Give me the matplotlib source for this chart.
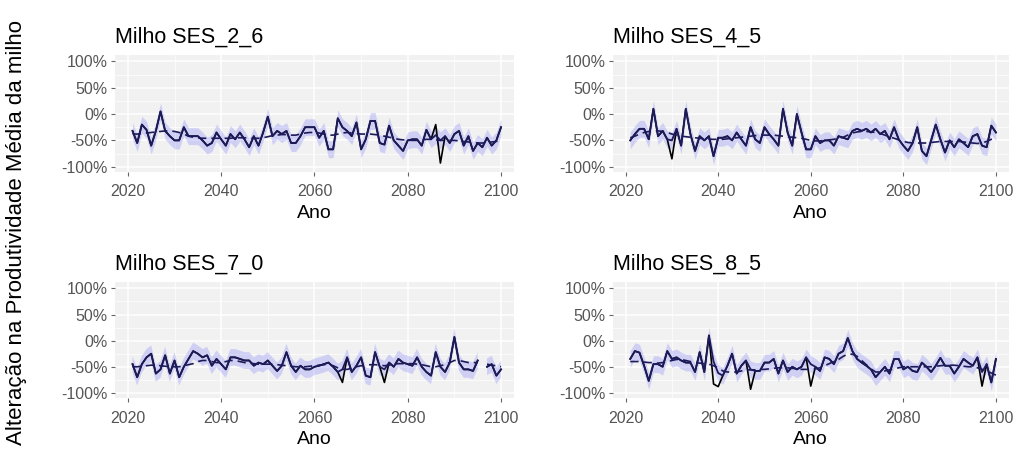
import numpy as np
import matplotlib
matplotlib.use("Agg")
import matplotlib.pyplot as plt
from matplotlib.ticker import FuncFormatter, MultipleLocator

plt.rcParams['font.family'] = ['Liberation Sans', 'DejaVu Sans']

anos = list(range(2021, 2101))
titulos = ["Milho SES_2_6", "Milho SES_4_5", "Milho SES_7_0", "Milho SES_8_5"]

# black line (simulated change, %)
obs_26 = [-32, -55, -20, -30, -60, -32, 5, -32, -42, -50,
          -50, -25, -42, -42, -42, -50, -60, -55, -35, -48,
          -60, -38, -48, -35, -48, -63, -42, -60, -35, -5,
          -42, -32, -38, -32, -55, -55, -42, -25, -25, -25,
          -45, -32, -67, -67, -8, -25, -32, -42, -16, -67,
          -48, -13, -13, -55, -58, -22, -50, -60, -70, -50,
          -48, -48, -60, -30, -48, -20, -93, -42, -55, -38,
          -32, -60, -42, -70, -55, -63, -45, -60, -50, -25]
obs_45 = [-50, -38, -28, -28, -48, 10, -42, -32, -48, -85,
          -28, -60, 10, -38, -70, -42, -50, -42, -80, -45,
          -45, -42, -50, -35, -48, -60, -25, -48, -55, -25,
          -38, -48, -60, 10, -35, -60, 0, -35, -67, -67,
          -42, -55, -50, -50, -60, -42, -45, -48, -32, -28,
          -32, -28, -35, -28, -38, -32, -48, -25, -48, -60,
          -70, -55, -25, -70, -80, -50, -20, -48, -73, -50,
          -63, -48, -55, -63, -42, -38, -60, -63, -22, -35]
obs_70 = [-45, -70, -45, -32, -25, -63, -55, -28, -63, -38,
          -70, -50, -35, -20, -25, -32, -28, -48, -35, -45,
          -55, -32, -32, -35, -38, -38, -48, -42, -45, -38,
          -48, -58, -48, -22, -48, -60, -48, -55, -55, -50,
          -48, -45, -42, -50, -60, -80, -32, -60, -48, -32,
          -67, -70, -22, -50, -80, -42, -50, -35, -42, -45,
          -48, -32, -50, -60, -67, -22, -50, -60, -42, 7,
          -42, -55, -55, -58, -38, np.nan, -50, -45, -67, -55]
obs_85 = [-35, -20, -23, -48, -77, -45, -45, -50, -20, -35,
          -32, -38, -42, -42, -60, -22, -60, 10, -83, -88,
          -67, -48, -25, -63, -48, -38, -93, -58, -58, -42,
          -42, -35, -63, -38, -60, -50, -55, -50, -32, -87,
          -50, -58, -32, -35, -45, -25, -20, 5, -20, -35,
          -42, -48, -55, -70, -60, -50, -63, -35, -35, -55,
          -50, -58, -60, -42, -50, -60, -48, -33, -48, -48,
          -63, -50, -35, -42, -48, -32, -87, -45, -80, -35]

# navy fitted line: same as black except these years
anos_dif_26, est_dif_26 = [2086, 2087], [-40, -50]
anos_dif_45, est_dif_45 = [2030], [-50]
anos_dif_70, est_dif_70 = [2066, 2075], [-55, -55]
anos_dif_85, est_dif_85 = [2039, 2040, 2047, 2060, 2097], [-40, -62, -55, -45, -60]

# dashed trend line
tend_26 = [-38, -38, -37, -36, -35, -34, -33, -32, -32, -33,
           -35, -38, -42, -44, -45, -46, -46, -46, -46, -46,
           -46, -46, -45, -45, -45, -46, -46, -46, -45, -43,
           -41, -40, -39, -39, -40, -40, -38, -36, -35, -35,
           -36, -38, -40, -40, -38, -36, -35, -36, -37, -38,
           -38, -38, -39, -40, -42, -44, -46, -48, -49, -50,
           -50, -50, -49, -48, -48, -49, -50, -50, -50, -50,
           -51, -52, -53, -54, -55, -55, -54, -53, -52, -50]
tend_45 = [-45, -42, -38, -35, -33, -32, -32, -33, -35, -38,
           -40, -42, -43, -44, -45, -46, -47, -48, -48, -48,
           -48, -47, -46, -45, -44, -43, -42, -41, -40, -40,
           -40, -40, -41, -42, -43, -44, -45, -46, -48, -50,
           -51, -51, -50, -49, -48, -46, -44, -40, -36, -34,
           -33, -33, -34, -35, -37, -40, -43, -46, -49, -52,
           -54, -55, -55, -55, -55, -54, -53, -52, -52, -52,
           -52, -52, -53, -54, -55, -56, -55, -52, -48, -45]
tend_70 = [-50, -50, -49, -48, -47, -47, -48, -49, -50, -50,
           -50, -48, -46, -44, -40, -38, -38, -40, -42, -42,
           -40, -38, -38, -40, -42, -43, -44, -45, -45, -45,
           -45, -46, -47, -48, -49, -50, -50, -50, -49, -48,
           -47, -46, -46, -48, -52, -55, -55, -53, -50, -48,
           -47, -46, -46, -47, -48, -47, -45, -44, -44, -44,
           -44, -45, -46, -48, -50, -50, -48, -46, -42, -38,
           -38, -40, -42, -42, -42, np.nan, -45, -47, -48, -50]
tend_85 = [-40, -40, -40, -41, -42, -42, -43, -42, -40, -38,
           -36, -36, -38, -40, -42, -43, -44, -45, -48, -52,
           -58, -60, -60, -60, -58, -56, -56, -56, -55, -55,
           -54, -53, -52, -52, -52, -53, -54, -55, -55, -55,
           -54, -52, -48, -44, -40, -36, -30, -26, -26, -30,
           -38, -46, -54, -60, -60, -58, -56, -54, -52, -50,
           -50, -50, -50, -50, -50, -50, -49, -48, -47, -47,
           -47, -48, -49, -50, -50, -52, -55, -58, -62, -66]

meia_largura = 16  # half-width of the uncertainty band, %

paineis = [
    (titulos[0], obs_26, anos_dif_26, est_dif_26, tend_26),
    (titulos[1], obs_45, anos_dif_45, est_dif_45, tend_45),
    (titulos[2], obs_70, anos_dif_70, est_dif_70, tend_70),
    (titulos[3], obs_85, anos_dif_85, est_dif_85, tend_85),
]

fig = plt.figure(figsize=(10.16, 4.55), dpi=100)
posicoes = [
    [0.113, 0.622, 0.393, 0.257],
    [0.603, 0.622, 0.390, 0.257],
    [0.113, 0.125, 0.393, 0.255],
    [0.603, 0.125, 0.390, 0.255],
]

navy = "#1c1a5a"
pct = FuncFormatter(lambda v, p: f"{int(round(v))}%")

for pos, (tit, obs, adif, edif, tend) in zip(posicoes, paineis):
    ax = fig.add_axes(pos)
    x = np.array(anos)
    y_obs = np.array(obs, dtype=float)
    y_est = y_obs.copy()
    for a, v in zip(adif, edif):
        y_est[anos.index(a)] = v
    ax.set_facecolor("#f1f1f1")
    ax.fill_between(x, y_est - meia_largura, y_est + meia_largura,
                    color="#4848ff", alpha=0.2, linewidth=0, zorder=2)
    ax.plot(x, y_obs, color="black", lw=1.2, zorder=3)
    ax.plot(x, y_est, color=navy, lw=1.3, zorder=4)
    ax.plot(x, np.array(tend, dtype=float), color=navy, lw=1.2,
            ls=(0, (5, 3)), zorder=4)

    ax.set_xlim(2017.2, 2102.8)
    ax.set_ylim(-110, 112)
    ax.xaxis.set_major_locator(MultipleLocator(20))
    ax.xaxis.set_minor_locator(MultipleLocator(10))
    ax.yaxis.set_major_locator(MultipleLocator(50))
    ax.yaxis.set_minor_locator(MultipleLocator(25))
    ax.yaxis.set_major_formatter(pct)
    ax.grid(which="major", color="white", lw=1.1, zorder=0)
    ax.grid(which="minor", color="white", lw=0.5, zorder=0)
    ax.set_axisbelow(True)
    for s in ax.spines.values():
        s.set_visible(False)
    ax.tick_params(which="major", length=3, width=0.8, color="#666666",
                   labelcolor="#555555", labelsize=11.5, pad=2)
    ax.tick_params(axis="x", which="major", pad=6)
    ax.tick_params(which="minor", length=0)
    ax.set_xlabel("Ano", fontsize=14, color="black", labelpad=4)
    ax.set_title(tit, loc="left", fontsize=15.5, pad=9, color="black")

fig.text(0.016, 0.49, "Alteração na Produtividade Média da milho",
         rotation=90, va="center", ha="center", fontsize=16, color="black")

fig.savefig("out.png", dpi=100, facecolor="white")
